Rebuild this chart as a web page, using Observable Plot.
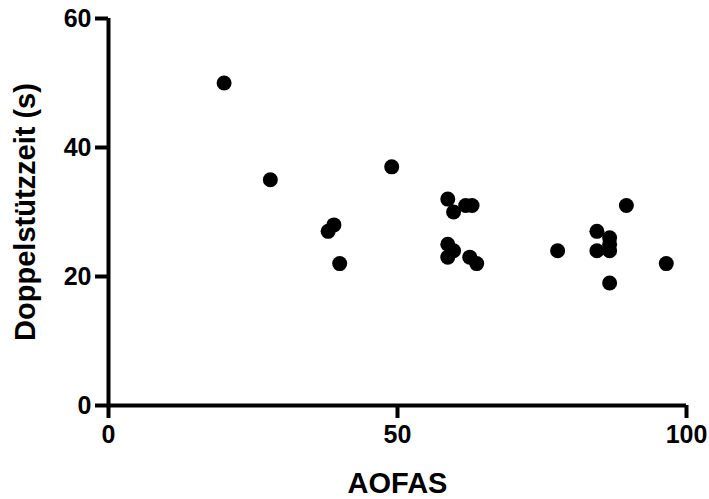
<!DOCTYPE html>
<html>
<head>
<meta charset="utf-8">
<script src="https://cdn.jsdelivr.net/npm/d3@7"></script>
<script src="https://cdn.jsdelivr.net/npm/@observablehq/plot@0.6"></script>
<style>
  html, body { margin: 0; padding: 0; background: #fff; }
  svg { font-family: "Liberation Sans", Arial, sans-serif; font-weight: bold; }
  svg g[aria-label="x-axis tick label"] text, svg g[aria-label="y-axis tick label"] text { font-size: 25px !important; }
  svg g[aria-label="x-axis label"] text, svg g[aria-label="y-axis label"] text { font-size: 29px !important; }
</style>
</head>
<body>
<div id="chart"></div>
<script>
const aofas = [20, 28, 38, 39, 40, 49, 58.7, 59.7, 61.8, 62.9, 58.7, 58.7, 59.7, 62.5, 63.7, 77.7, 84.5, 84.5, 86.7, 86.7, 86.7, 86.7, 89.6, 96.5];
const doppel = [50, 35, 27, 28, 22, 37, 32, 30, 31, 31, 25, 23, 24, 23, 22, 24, 27, 24, 26, 25, 24, 19, 31, 22];
const xTicks = [0, 50, 100];
const yTicks = [0, 20, 40, 60];
const xLabel = "AOFAS";
const yLabel = "Doppelstützzeit (s)";

const data = aofas.map((a, i) => ({x: a, y: doppel[i]}));

const chart = Plot.plot({
  width: 709,
  height: 499,
  marginLeft: 108,
  marginRight: 23,
  marginTop: 18,
  marginBottom: 94,
  style: {background: "#fff", color: "#000"},
  x: {domain: [0, 100]},
  y: {domain: [0, 60]},
  marks: [
    Plot.axisX(xTicks, {tickSize: 13, tickPadding: 7, strokeWidth: 4, label: xLabel, labelAnchor: "center", labelArrow: "none", labelOffset: 87}),
    Plot.axisY(yTicks, {tickSize: 13, tickPadding: 4, strokeWidth: 4, label: yLabel, labelAnchor: "center", labelArrow: "none", labelOffset: 94}),
    Plot.ruleY([0], {x1: 0, x2: 100, strokeWidth: 4, stroke: "#000"}),
    Plot.ruleX([0], {y1: 0, y2: 60, strokeWidth: 4, stroke: "#000"}),
    Plot.dot(data, {x: "x", y: "y", r: 7.5, fill: "#000", stroke: "none"})
  ]
});
document.getElementById("chart").appendChild(chart);
</script>
</body>
</html>
